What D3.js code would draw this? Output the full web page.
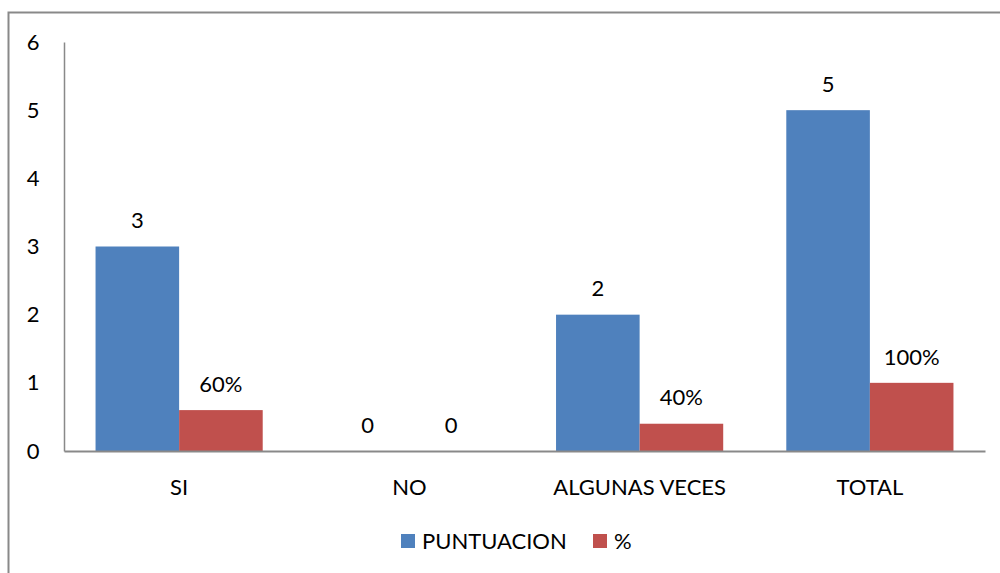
<!DOCTYPE html>
<html>
<head>
<meta charset="utf-8">
<script src="https://cdn.jsdelivr.net/npm/d3@7"></script>
<style>
  body { margin: 0; background: #fff; }
  text { font-family: Lato, "Open Sans", sans-serif; fill: #000; }
</style>
</head>
<body>
<div id="chart"></div>
<script>
var categories = ["SI", "NO", "ALGUNAS VECES", "TOTAL"];
var seriesNames = ["PUNTUACION", "%"];
var puntuacion = [3, 0, 2, 5];
var porcentaje = [0.6, 0, 0.4, 1];
var porcentajeLabels = ["60%", "0", "40%", "100%"];
var yTicks = [0, 1, 2, 3, 4, 5, 6];
var colors = ["#4F81BD", "#C0504D"];

var width = 1000, height = 573;
var plotLeft = 64, plotRight = 985, plotTop = 42, plotBottom = 451;
var fontSize = "22px";

var svg = d3.select("#chart").append("svg")
    .attr("width", width)
    .attr("height", height);

// outer frame (only top/left visible)
svg.append("rect")
    .attr("x", 8.5).attr("y", 12.5)
    .attr("width", 1100).attr("height", 700)
    .attr("fill", "none")
    .attr("stroke", "#898989")
    .attr("stroke-width", 2);

var x = d3.scaleBand()
    .domain(categories)
    .range([plotLeft, plotRight])
    .paddingInner(0.274)
    .paddingOuter(0.137);

var sub = d3.scaleBand()
    .domain(seriesNames)
    .range([0, x.bandwidth()]);

var y = d3.scaleLinear()
    .domain([0, 6])
    .range([plotBottom, plotTop]);

var rows = categories.map(function(c, i) {
    return [
        {cat: c, s: seriesNames[0], v: puntuacion[i], label: String(puntuacion[i]), color: colors[0]},
        {cat: c, s: seriesNames[1], v: porcentaje[i], label: porcentajeLabels[i], color: colors[1]}
    ];
});
var flat = [].concat.apply([], rows);

// bars
svg.append("g").selectAll("rect")
    .data(flat)
    .enter().append("rect")
    .attr("x", function(d) { return x(d.cat) + sub(d.s); })
    .attr("y", function(d) { return y(d.v); })
    .attr("width", sub.bandwidth())
    .attr("height", function(d) { return y(0) - y(d.v); })
    .attr("fill", function(d) { return d.color; });

// value labels
svg.append("g").selectAll("text")
    .data(flat)
    .enter().append("text")
    .attr("x", function(d) { return x(d.cat) + sub(d.s) + sub.bandwidth() / 2; })
    .attr("y", function(d) { return y(d.v) - 26; })
    .attr("dy", "0.35em")
    .attr("text-anchor", "middle")
    .style("font-size", fontSize)
    .text(function(d) { return d.label; });

// y axis
var yAxis = d3.axisLeft(y).tickValues(yTicks).tickSize(0).tickPadding(0).tickFormat(d3.format("d"));
var gy = svg.append("g")
    .attr("transform", "translate(" + plotLeft + ",0)")
    .call(yAxis);
gy.select(".domain").attr("stroke", "#898989").attr("stroke-width", 1.5);
gy.selectAll("text")
    .attr("x", -31)
    .attr("text-anchor", "middle")
    .style("font-size", fontSize)
    .style("font-family", "Lato, 'Open Sans', sans-serif");

// x axis
var xAxis = d3.axisBottom(x).tickSize(0).tickPadding(0);
var gx = svg.append("g")
    .attr("transform", "translate(0," + plotBottom + ")")
    .call(xAxis);
gx.select(".domain").attr("stroke", "#898989").attr("stroke-width", 2);
gx.selectAll("text")
    .attr("y", 36)
    .attr("dy", "0.35em")
    .style("font-size", fontSize)
    .style("font-family", "Lato, 'Open Sans', sans-serif");

// legend
var legendX = [401, 593];
var legend = svg.append("g").selectAll("g")
    .data(seriesNames)
    .enter().append("g")
    .attr("transform", function(d, i) { return "translate(" + legendX[i] + ",534)"; });
legend.append("rect")
    .attr("width", 14).attr("height", 14)
    .attr("fill", function(d, i) { return colors[i]; });
legend.append("text")
    .attr("x", 21).attr("y", 7)
    .attr("dy", "0.35em")
    .style("font-size", fontSize)
    .text(function(d) { return d; });
</script>
</body>
</html>
